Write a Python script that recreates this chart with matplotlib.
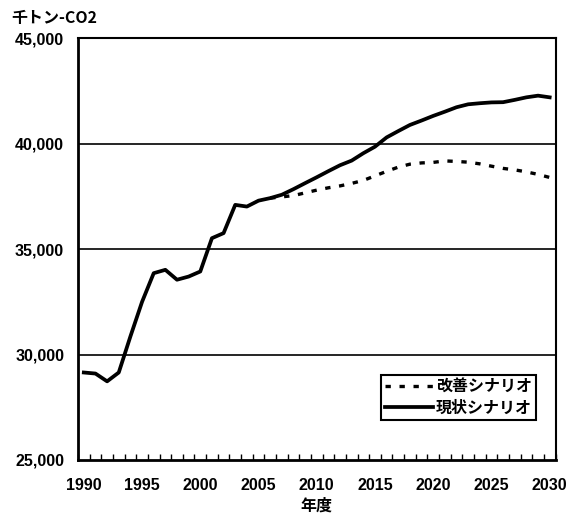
import matplotlib
matplotlib.use("Agg")
import matplotlib.pyplot as plt
import numpy as np

plt.rcParams['font.family'] = ['Liberation Sans', 'Noto Sans CJK JP', 'DejaVu Sans']
plt.rcParams['font.weight'] = 'bold'

years = list(range(1990, 2031))

# 現状シナリオ (business as usual), 千トン-CO2
current = [29150, 29100, 28730, 29150, 30860, 32500, 33860, 34020, 33550, 33700,
           33940, 35520, 35760, 37100, 37020, 37300, 37420, 37580, 37845, 38130,
           38410, 38700, 38980, 39200, 39550, 39860, 40300, 40600, 40890, 41100,
           41320, 41520, 41730, 41870, 41920, 41960, 41970, 42080, 42200, 42280,
           42200]

# 改善シナリオ (improvement), starting from 2006
improved_years = list(range(2006, 2031))
improved = [37420, 37480, 37540, 37670, 37800, 37910, 38000, 38120, 38260, 38475,
            38690, 38890, 39030, 39090, 39115, 39185, 39160, 39125, 39045, 38935,
            38830, 38760, 38665, 38545, 38400]

y_ticks = [25000, 30000, 35000, 40000, 45000]
x_label_years = list(range(1990, 2031, 5))

W, H = 571, 523
fig = plt.figure(figsize=(W / 100, H / 100), dpi=100)
ax = fig.add_axes([78 / W, 1 - 460 / H, (555.5 - 78) / W, (460 - 38.3) / H])

x = np.arange(len(years))
xi = np.array([years.index(y) for y in improved_years])

ax.plot(xi, improved, color='black', lw=2.4, linestyle=(0, (1.6, 2.6)),
        dash_capstyle='butt', label='改善シナリオ', zorder=3)
ax.plot(x, current, color='black', lw=2.7, solid_joinstyle='round',
        label='現状シナリオ', zorder=4)

ax.set_xlim(-0.5, len(years) - 0.5)
ax.set_ylim(25000, 45000)

ax.set_yticks(y_ticks)
ax.set_yticklabels([f'{v:,}' for v in y_ticks], fontsize=11.5, fontweight='bold')
ax.tick_params(axis='y', length=0, pad=10)
for v in y_ticks[1:-1]:
    ax.axhline(v, color='black', lw=1.2, zorder=1)

ax.set_xticks([years.index(y) for y in x_label_years])
ax.set_xticklabels([str(y) for y in x_label_years], fontsize=11.5, fontweight='bold')
ax.tick_params(axis='x', which='major', length=0, pad=13)
ax.set_xticks(np.arange(-0.5, len(years) - 0.4, 1.0), minor=True)
ax.tick_params(axis='x', which='minor', direction='in', length=4, width=1, color='black')

for side, lw in [('left', 2.0), ('bottom', 2.0), ('top', 1.5), ('right', 1.5)]:
    ax.spines[side].set_linewidth(lw)
    ax.spines[side].set_color('black')

ax.set_xlabel('年度', fontsize=11.5, fontweight='bold',
              family=['Noto Sans CJK JP'], labelpad=3)

fig.text(11 / W, 1 - 17.5 / H, '千トン-CO2', fontsize=11.5, fontweight='bold',
         va='center', ha='left', family=['Noto Sans CJK JP', 'Liberation Sans'])

leg = ax.legend(loc='upper right', bbox_to_anchor=(536 / W, 1 - 375 / H),
                bbox_transform=fig.transFigure, frameon=True, fancybox=False,
                edgecolor='black', framealpha=1, borderpad=0.25,
                handlelength=3.0, handletextpad=0.2, labelspacing=0.3,
                borderaxespad=0,
                prop={'family': ['Noto Sans CJK JP'], 'weight': 'bold', 'size': 11.5})
leg.get_frame().set_linewidth(1.5)

fig.savefig('out.png', dpi=100)
